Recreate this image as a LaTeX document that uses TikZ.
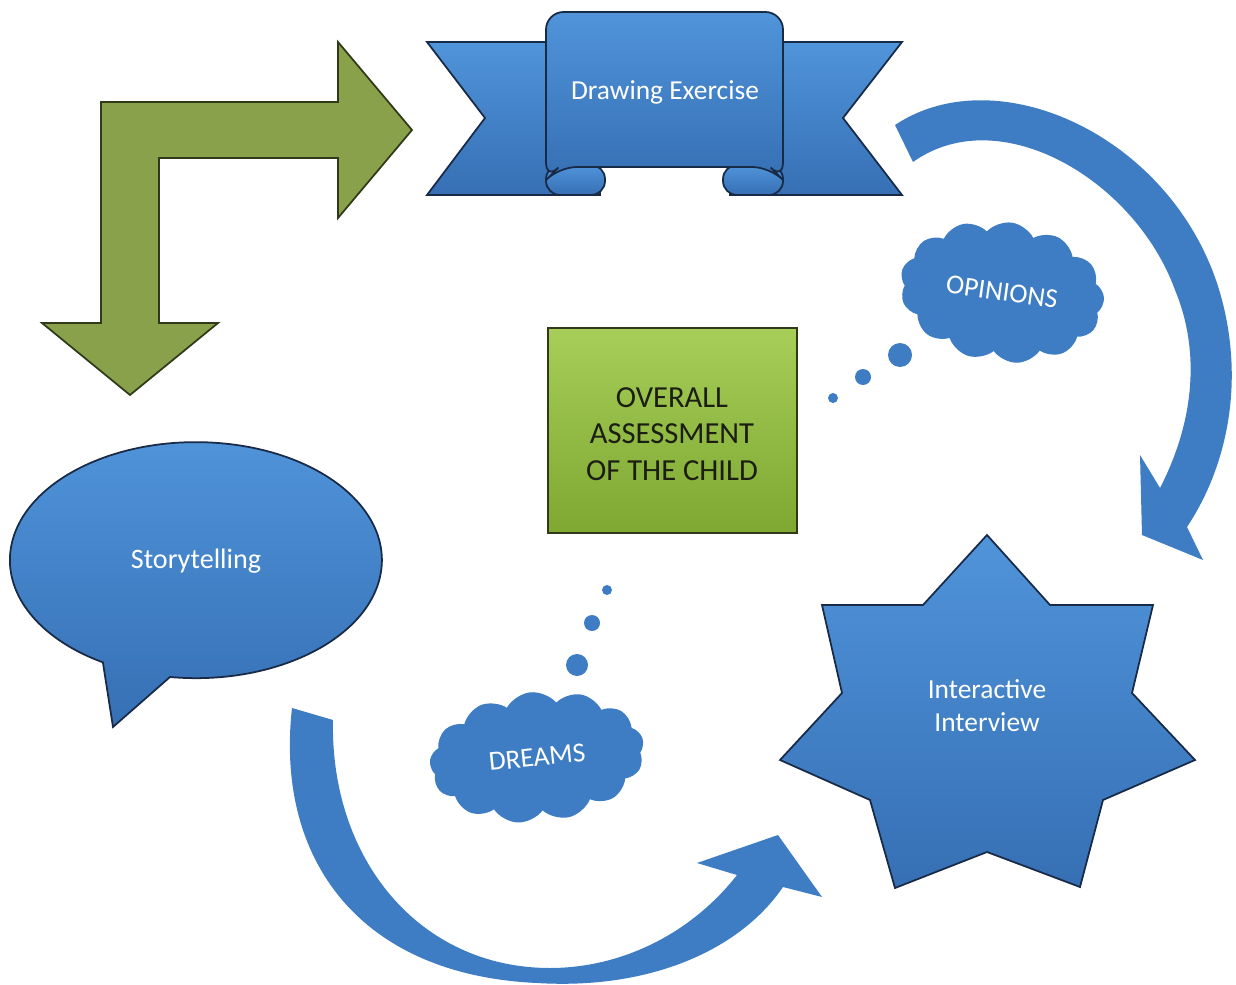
\documentclass[tikz,border=0pt]{standalone}
\usepackage{fontspec}
\setmainfont{Carlito}
\usetikzlibrary{shapes.symbols}
\definecolor{blueL}{RGB}{80,148,218}
\definecolor{blueD}{RGB}{54,111,180}
\definecolor{blueA}{RGB}{62,125,196}
\definecolor{blueE}{RGB}{24,42,70}
\definecolor{olive}{RGB}{136,161,74}
\definecolor{oliveE}{RGB}{48,58,26}
\definecolor{limeL}{RGB}{166,206,88}
\definecolor{limeD}{RGB}{126,168,50}
\definecolor{ink}{RGB}{28,30,20}
\begin{document}
\begin{tikzpicture}[x=0.01cm,y=-0.01cm,
	bluebox/.style={draw=blueE,line width=0.5pt,top color=blueL,bottom color=blueD},
	sweep/.style={fill=blueA},
	whitetext/.style={text=white,align=center,font=\fontsize{7.8}{9.4}\selectfont},
	puff/.style={cloud,cloud puffs=13,cloud puff arc=110,cloud ignores aspect,fill=blueA,inner sep=0pt},
	bubbledot/.style={fill=blueA}]
	\useasboundingbox (0,0) rectangle (1236,985);
	% bent arrow
	\draw[draw=oliveE,fill=olive,line width=0.5pt] (412,130) -- (338,42) -- (338,102) -- (101,102) -- (101,323) -- (42,323) -- (130,395) -- (218,323) -- (159,323) -- (159,158) -- (338,158) -- (338,218) -- cycle;
	% ribbon
	\draw[bluebox] (427,42) -- (600,42) -- (600,195) -- (427,195) -- (485,118) -- cycle;
	\draw[bluebox] (902,42) -- (730,42) -- (730,195) -- (902,195) -- (843,118) -- cycle;
	\draw[bluebox,rounded corners=4pt] (546,165) rectangle (605,195);
	\draw[bluebox,rounded corners=4pt] (723,165) rectangle (783,195);
	\draw[bluebox,rounded corners=5pt] (546,180) -- (546,12) -- (783,12) -- (783,180) -- (770,167) -- (559,167) -- cycle;
	\node[whitetext] (drawing) at (665,92) {Drawing Exercise};
	% speech bubble and star
	\draw[bluebox] (170,677) arc[start angle=98,end angle=-240,x radius=186,y radius=118] -- (113,727) -- cycle;
	\node[whitetext,font=\fontsize{8}{9.6}\selectfont] (story) at (196,561) {Storytelling};
	\draw[bluebox] (987,535) -- (1050,605) -- (1153,605) -- (1132,693) -- (1195,760) -- (1103,800) -- (1080,887) -- (987,852) -- (895,888) -- (870,800) -- (780,760) -- (842,693) -- (822,605) -- (923,605) -- cycle;
	\node[whitetext] (interview) at (987,706) {Interactive\\Interview};
	% centre box
	\draw[draw=oliveE,line width=0.5pt,top color=limeL,bottom color=limeD] (548,328) rectangle (797,533);
	\node[text=ink,align=center,font=\fontsize{8.7}{10.3}\selectfont] (overall) at (672,434) {OVERALL\\ASSESSMENT\\OF THE CHILD};
	% curved arrows
	\fill[sweep] (895,125) .. controls (1000,55) and (1180,140) .. (1222,300) .. controls (1245,388) and (1225,470) .. (1187,527) -- (1203,560) -- (1142,535) -- (1140,455) -- (1160,488) .. controls (1195,420) and (1200,350) .. (1175,290) .. controls (1135,180) and (1000,100) .. (913,162) -- cycle;
	\fill[sweep] (292,708) .. controls (275,860) and (360,975) .. (537,983) .. controls (650,990) and (740,950) .. (783,887) -- (822,897) -- (778,835) -- (697,863) -- (737,875) .. controls (690,935) and (620,968) .. (550,968) .. controls (420,968) and (330,860) .. (333,720) -- cycle;
	% thought clouds
	\node[puff,rotate=-8,minimum width=2.05cm,minimum height=1.4cm,whitetext] (opinions) at (1002,292) {OPINIONS};
	\fill[bubbledot] (900,355) circle[radius=12];
	\fill[bubbledot] (863,377) circle[radius=8];
	\fill[bubbledot] (833,398) circle[radius=5];
	\node[puff,rotate=6,minimum width=2.15cm,minimum height=1.3cm,whitetext] (dreams) at (537,757) {DREAMS};
	\fill[bubbledot] (577,665) circle[radius=11];
	\fill[bubbledot] (592,623) circle[radius=8];
	\fill[bubbledot] (607,590) circle[radius=5];
\end{tikzpicture}
\end{document}
